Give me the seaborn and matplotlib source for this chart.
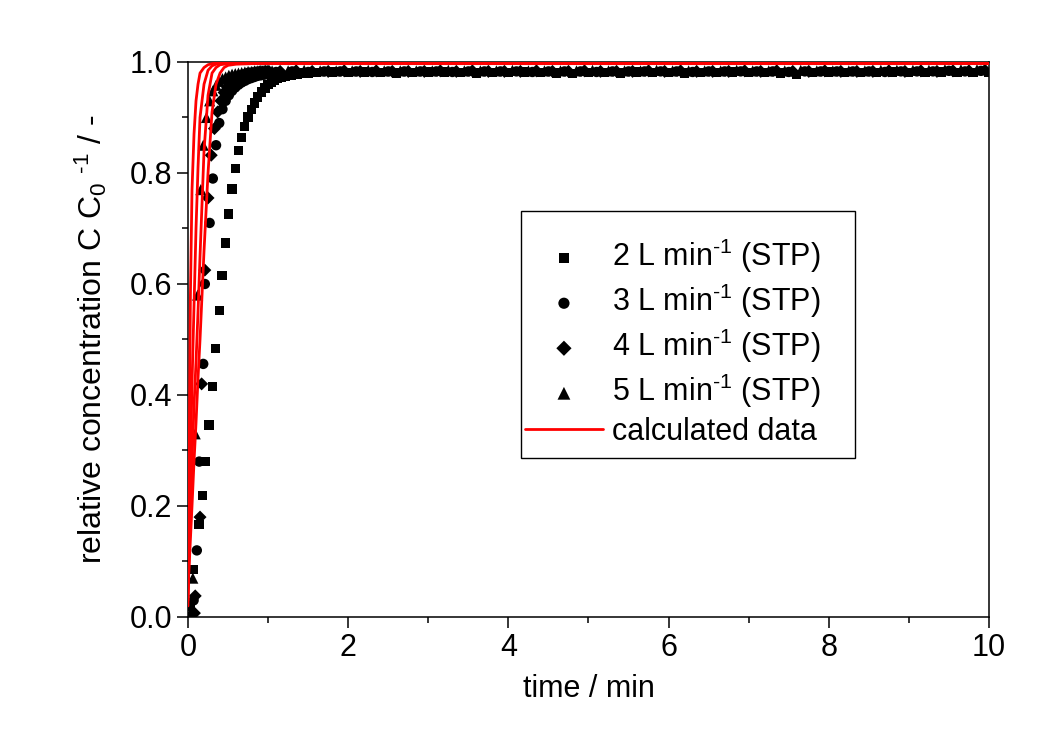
import numpy as np
import matplotlib
matplotlib.use("Agg")
import matplotlib.pyplot as plt
from matplotlib.patches import Rectangle
import seaborn as sns

# -----------------------------
# measured data (read from the figure)
# -----------------------------

# 2 L min-1 (STP) - squares
t2 = [0.03, 0.07, 0.137, 0.179, 0.221, 0.262, 0.303, 0.346, 0.391, 0.424, 0.466,
      0.508, 0.549, 0.596, 0.628, 0.670, 0.708, 0.749, 0.79, 0.83, 0.87, 0.92,
      0.96, 1.0, 1.04, 1.08, 1.12, 1.17, 1.21, 1.25, 1.29, 1.33, 1.37, 1.42,
      1.46, 1.5, 1.54]
c2 = [0.02, 0.085, 0.166, 0.219, 0.280, 0.346, 0.415, 0.484, 0.552, 0.615, 0.674,
      0.726, 0.771, 0.808, 0.840, 0.864, 0.884, 0.901, 0.914, 0.926, 0.937, 0.946,
      0.953, 0.959, 0.963, 0.967, 0.970, 0.972, 0.974, 0.975, 0.976, 0.977, 0.978,
      0.979, 0.980, 0.980, 0.981]
c2_plateau = [0.981, 0.982, 0.981, 0.982, 0.981, 0.980, 0.981, 0.982, 0.982, 0.981,
              0.980, 0.981, 0.981, 0.982, 0.981, 0.980, 0.979, 0.981, 0.981, 0.980,
              0.982, 0.981, 0.981, 0.980, 0.981, 0.981, 0.982, 0.981, 0.981, 0.980,
              0.977, 0.981, 0.982, 0.981, 0.981, 0.981, 0.982, 0.981, 0.981, 0.982,
              0.981, 0.981, 0.981]

# 3 L min-1 (STP) - circles
t3 = [0.07, 0.11, 0.14, 0.19, 0.21, 0.27, 0.31, 0.35, 0.39, 0.43, 0.47, 0.51,
      0.55, 0.59, 0.63, 0.67, 0.71, 0.75, 0.79, 0.83, 0.87, 0.91, 0.95, 0.99, 1.03]
c3 = [0.03, 0.12, 0.28, 0.456, 0.60, 0.71, 0.79, 0.85, 0.89, 0.915, 0.93, 0.94,
      0.948, 0.954, 0.959, 0.963, 0.966, 0.969, 0.971, 0.973, 0.975, 0.976, 0.977,
      0.978, 0.979]
c3_plateau = [0.982, 0.983, 0.982, 0.983, 0.983, 0.983, 0.982, 0.983, 0.983, 0.983,
              0.983, 0.982, 0.983, 0.983, 0.983, 0.983, 0.982, 0.983, 0.983, 0.983,
              0.982, 0.983, 0.983, 0.983, 0.983, 0.983, 0.982, 0.983, 0.983, 0.983,
              0.983, 0.983, 0.982, 0.983, 0.983, 0.983, 0.983, 0.983, 0.982, 0.983,
              0.983, 0.983, 0.984, 0.983, 0.984]

# 4 L min-1 (STP) - diamonds
t4 = [0.08, 0.09, 0.15, 0.17, 0.21, 0.25, 0.29, 0.33, 0.37, 0.41, 0.45, 0.49,
      0.53, 0.57, 0.61, 0.65, 0.69, 0.73, 0.77, 0.81, 0.85, 0.89, 0.93, 0.97, 1.01]
c4 = [0.007, 0.038, 0.18, 0.42, 0.625, 0.755, 0.832, 0.88, 0.91, 0.93, 0.945,
      0.955, 0.962, 0.967, 0.971, 0.974, 0.976, 0.978, 0.979, 0.980, 0.981, 0.982,
      0.982, 0.983, 0.983]
c4_plateau = [0.983, 0.984, 0.983, 0.983, 0.984, 0.983, 0.984, 0.983, 0.983, 0.983,
              0.984, 0.983, 0.984, 0.983, 0.983, 0.983, 0.984, 0.983, 0.983, 0.984,
              0.983, 0.983, 0.983, 0.984, 0.983, 0.984, 0.983, 0.983, 0.983, 0.984,
              0.983, 0.984, 0.983, 0.983, 0.984, 0.983, 0.983, 0.983, 0.984, 0.983,
              0.984, 0.983, 0.984, 0.984, 0.985]

# 5 L min-1 (STP) - triangles
t5 = [0.04, 0.06, 0.09, 0.12, 0.16, 0.19, 0.23, 0.27, 0.31, 0.35, 0.39, 0.43,
      0.47, 0.51, 0.55, 0.59, 0.63, 0.67, 0.71, 0.75, 0.79, 0.83, 0.87, 0.91,
      0.95, 0.99]
c5 = [0.01, 0.07, 0.33, 0.58, 0.77, 0.85, 0.90, 0.93, 0.948, 0.958, 0.965, 0.97,
      0.973, 0.976, 0.978, 0.979, 0.980, 0.981, 0.982, 0.983, 0.983, 0.984, 0.984,
      0.985, 0.985, 0.985]
c5_plateau = [0.984, 0.984, 0.985, 0.984, 0.984, 0.984, 0.985, 0.984, 0.984, 0.984,
              0.984, 0.985, 0.984, 0.984, 0.984, 0.985, 0.984, 0.984, 0.984, 0.984,
              0.985, 0.984, 0.984, 0.984, 0.985, 0.984, 0.984, 0.984, 0.984, 0.985,
              0.984, 0.984, 0.984, 0.985, 0.984, 0.984, 0.984, 0.984, 0.985, 0.985,
              0.985, 0.985, 0.986, 0.986, 0.986]

# calculated curves
calc_t = [0, 0.01, 0.02, 0.03, 0.05, 0.075, 0.1, 0.125, 0.15, 0.2, 0.25, 0.3,
          0.35, 0.4, 0.45, 0.5, 0.6, 0.8, 10.0]
calc2 = [0.05, 0.08, 0.11, 0.14, 0.20, 0.28, 0.35, 0.43, 0.50, 0.66, 0.80, 0.91,
         0.96, 0.98, 0.99, 0.994, 0.996, 0.997, 0.997]
calc3 = [0.04, 0.09, 0.14, 0.19, 0.28, 0.38, 0.46, 0.55, 0.65, 0.84, 0.94, 0.98,
         0.99, 0.995, 0.996, 0.997, 0.998, 0.998, 0.998]
calc4 = [0.03, 0.12, 0.20, 0.28, 0.42, 0.56, 0.70, 0.81, 0.90, 0.96, 0.985, 0.993,
         0.996, 0.997, 0.998, 0.998, 0.998, 0.998, 0.998]
calc5 = [0.02, 0.20, 0.40, 0.58, 0.77, 0.87, 0.93, 0.96, 0.98, 0.99, 0.995, 0.997,
         0.998, 0.998, 0.998, 0.998, 0.998, 0.998, 0.998]

labels = [r"2 L min$^{\text{-}1}$ (STP)", r"3 L min$^{\text{-}1}$ (STP)",
          r"4 L min$^{\text{-}1}$ (STP)", r"5 L min$^{\text{-}1}$ (STP)"]

# plateau sample times (one sample per 0.2 min, series shifted in time)
series = [
    (t2 + list(np.linspace(1.6, 10.0, len(c2_plateau))), c2 + c2_plateau, "s", 44, 55),
    (t3 + list(np.linspace(1.1, 9.9, len(c3_plateau))), c3 + c3_plateau, "o", 56, 65),
    (t4 + list(np.linspace(1.15, 9.95, len(c4_plateau))), c4 + c4_plateau, "D", 44, 60),
    (t5 + list(np.linspace(1.05, 9.85, len(c5_plateau))), c5 + c5_plateau, "^", 64, 85),
]

# -----------------------------
# plot
# -----------------------------
sns.set_style("ticks")
plt.rcParams["font.family"] = ["Liberation Sans", "DejaVu Sans"]
plt.rcParams["mathtext.fontset"] = "custom"
plt.rcParams["mathtext.rm"] = "Liberation Sans"
plt.rcParams["mathtext.it"] = "Liberation Sans"
plt.rcParams["text.color"] = "black"
plt.rcParams["axes.labelcolor"] = "black"
plt.rcParams["xtick.color"] = "black"
plt.rcParams["ytick.color"] = "black"

fig = plt.figure(figsize=(10.37, 7.3), dpi=100)
ax = fig.add_axes([0.1813, 0.1548, 0.7724, 0.7603])

for (tt, cc, mk, sz, lsz), lab in zip(series, labels):
    sns.scatterplot(x=tt, y=cc, marker=mk, s=sz, color="black",
                    edgecolor="none", linewidth=0, label=lab, ax=ax, zorder=2)

for i, cc in enumerate([calc2, calc3, calc4, calc5]):
    sns.lineplot(x=calc_t, y=cc, color="#ff0000", linewidth=2.0,
                 label="calculated data" if i == 0 else None, ax=ax, zorder=3)

ax.set_xlim(0, 10)
ax.set_ylim(0, 1.0)
ax.set_xticks([0, 2, 4, 6, 8, 10])
ax.set_xticklabels(["0", "2", "4", "6", "8", "10"])
ax.set_yticks([0.0, 0.2, 0.4, 0.6, 0.8, 1.0])
ax.set_xticks(np.arange(1, 10, 2), minor=True)
ax.set_yticks(np.arange(0.1, 1.0, 0.2), minor=True)
ax.yaxis.set_major_formatter(matplotlib.ticker.FormatStrFormatter("%.1f"))

ax.tick_params(which="major", direction="out", length=8, width=1.1,
               labelsize=22, top=False, right=False, colors="black")
ax.tick_params(which="minor", direction="out", length=4, width=1.1,
               top=False, right=False, colors="black")
for sp in ax.spines.values():
    sp.set_visible(True)
    sp.set_linewidth(1.1)
    sp.set_color("black")

ax.set_xlabel("time / min", fontsize=22, labelpad=8)
ax.set_ylabel(r"relative concentration C C$_0$ $^{\text{-}1}$ / -", fontsize=23,
              labelpad=15)

# legend: content without frame, frame drawn as a rectangle
leg = ax.legend(loc="center left", bbox_to_anchor=(0.4207, 0.4955), fontsize=22,
                frameon=False, borderpad=0, handlelength=2.55,
                handletextpad=0.3, labelspacing=0.22, borderaxespad=0)
for h, (_, _, _, _, lsz) in zip(leg.legend_handles[:4], series):
    h.set_sizes([lsz])
ax.add_patch(Rectangle((0.4157, 0.2865), 0.8327 - 0.4157, 0.7315 - 0.2865,
                       transform=ax.transAxes, fill=False, edgecolor="black",
                       linewidth=1.0, zorder=5))

fig.savefig("out.png", dpi=100)
